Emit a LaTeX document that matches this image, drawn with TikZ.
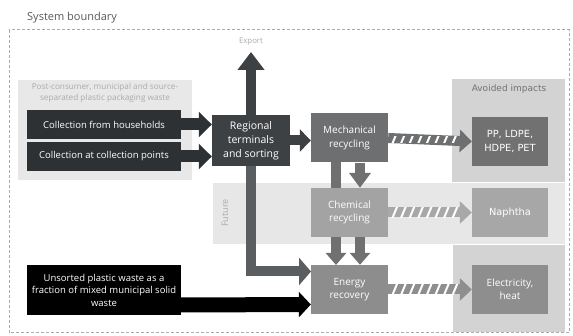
\documentclass[tikz,border=0pt]{standalone}
\usepackage{fontspec}
\setmainfont{Open Sans}
\newfontfamily\vfont{DejaVu Sans}
\usetikzlibrary{arrows.meta}
\definecolor{darkbox}{HTML}{2E3134}
\definecolor{regbox}{HTML}{3E4144}
\definecolor{mechbox}{HTML}{6E6F71}
\definecolor{chembox}{HTML}{A3A3A3}
\definecolor{enbox}{HTML}{8D8D8D}
\definecolor{ppbox}{HTML}{717171}
\definecolor{naphbox}{HTML}{A7A7A7}
\definecolor{elbox}{HTML}{8E8E8E}
\definecolor{avbg}{HTML}{D3D3D3}
\definecolor{futbg}{HTML}{E7E7E7}
\definecolor{pcbg}{HTML}{E8E8E8}
\definecolor{lbl}{HTML}{ABABAB}
\definecolor{vert}{HTML}{707070}
\newcommand\hatcharrow[3]{%
  \draw[line width=10pt, #3, -{Triangle[length=12pt,width=22pt]}] (#1.east) -- (#2.west);
  \begin{scope}
    \clip ([yshift=-5pt]#1.east) rectangle ([yshift=5pt,xshift=-12pt]#2.west);
    \foreach \i in {0,...,7} {\draw[white, line width=2pt] ([xshift={4pt+\i*8.6pt}, yshift=-6pt]#1.east) -- ++(5,-12);}
  \end{scope}}
\begin{document}
\begin{tikzpicture}[x=1pt,y=-1pt,
  box/.style={minimum width=77pt, minimum height=49pt, inner sep=0pt, align=center, text=white, font=\fontsize{10}{13.5}\selectfont},
  srcbox/.style={minimum width=154pt, inner sep=0pt, align=center, text=white, font=\fontsize{9.5}{12.5}\selectfont},
  vbox/.style={box, font=\vfont\fontsize{9.8}{13.5}\selectfont},
  gtext/.style={text=lbl, inner sep=0pt, align=center}]
\useasboundingbox (0,0) rectangle (573,336);
% backgrounds
\fill[white] (0,0) rectangle (573,336);
\draw[densely dashed, color=lbl, line width=1pt] (9,30) rectangle (569,333);
\node[text=black!65, inner sep=0pt, anchor=west, font=\fontsize{11}{13}\selectfont] (sysb) at (27,18) {System boundary};
\fill[pcbg] (18,80) rectangle (192,180);
\fill[avbg] (452,79) rectangle (565,182);
\fill[futbg] (213,183) rectangle (565,244);
\fill[avbg] (453,245) rectangle (565,332);
\node[gtext, font=\fontsize{8.2}{11}\selectfont] (pctext) at (105,92.5) {Post-consumer, municipal and source-\\separated plastic packaging waste};
\node[gtext, text=black!55, font=\vfont\fontsize{9}{11}\selectfont] (avtext) at (509,89) {Avoided impacts};
\node[gtext, rotate=90, font=\fontsize{9}{11}\selectfont] (future) at (225,213) {Future};
% nodes
\node[srcbox, fill=darkbox, minimum height=29pt] (coll1) at (104,124.5) {Collection from households};
\node[srcbox, fill=darkbox, minimum height=29pt] (coll2) at (104,156.5) {Collection at collection points};
\node[srcbox, fill=black, minimum height=50pt] (unsorted) at (104,290) {Unsorted plastic waste as a\\fraction of mixed municipal solid\\waste};
\node[box, fill=regbox, minimum width=78pt, minimum height=51pt, font=\fontsize{10.5}{14}\selectfont] (reg) at (251,140.5) {Regional\\terminals\\and sorting};
\node[gtext, font=\fontsize{7.8}{9}\selectfont] (exportlbl) at (251,42) {Export};
\coordinate (exptip) at (251,52);
% arrows behind boxes
\draw[line width=10pt, vert, -{Triangle[length=12pt,width=20pt]}] (336,160) -- (336,265);
\draw[line width=10pt, regbox!85!white, -{Triangle[length=12pt,width=27pt]}] (reg.south) |- ([yshift=18pt]{311,289.5});
\node[box, fill=mechbox] (mech) at (349.5,138) {Mechanical\\recycling};
\node[box, fill=chembox] (chem) at (349.5,212.5) {Chemical\\recycling};
\node[box, fill=enbox] (energy) at (349.5,289.5) {Energy\\recovery};
\node[vbox, fill=ppbox, minimum width=76pt] (pp) at (510,141.5) {PP, LDPE,\\HDPE, PET};
\node[vbox, fill=naphbox, minimum width=76pt] (naph) at (510,212.5) {Naphtha};
\node[box, fill=elbox, minimum width=76pt] (elec) at (510,289.5) {Electricity,\\heat};
% connectors
\draw[line width=12pt, darkbox, -{Triangle[length=13pt,width=25pt]}] (coll1.east) -- (coll1.east -| reg.west);
\draw[line width=12pt, darkbox, -{Triangle[length=13pt,width=25pt]}] (coll2.east) -- (coll2.east -| reg.west);
\draw[line width=10pt, regbox, -{Triangle[length=18pt,width=26pt]}] (reg.north) -- (exptip);
\draw[line width=10pt, regbox, -{Triangle[length=11pt,width=22pt]}] (reg.east) -- (reg.east -| mech.west);
\draw[line width=10pt, vert, -{Triangle[length=15pt,width=21pt]}] (mech.south -| 360,0) -- (chem.north -| 360,0);
\draw[line width=10pt, vert, -{Triangle[length=12pt,width=20pt]}] (chem.south -| 360,0) -- (energy.north -| 360,0);
\draw[line width=15pt, black, -{Triangle[length=12pt,width=25pt]}] ([yshift=-15pt]unsorted.east) -- ([yshift=-15pt]energy.west);
\hatcharrow{mech}{pp}{mechbox}
\hatcharrow{chem}{naph}{chembox!95!white}
\hatcharrow{energy}{elec}{elbox}
\end{tikzpicture}
\end{document}
